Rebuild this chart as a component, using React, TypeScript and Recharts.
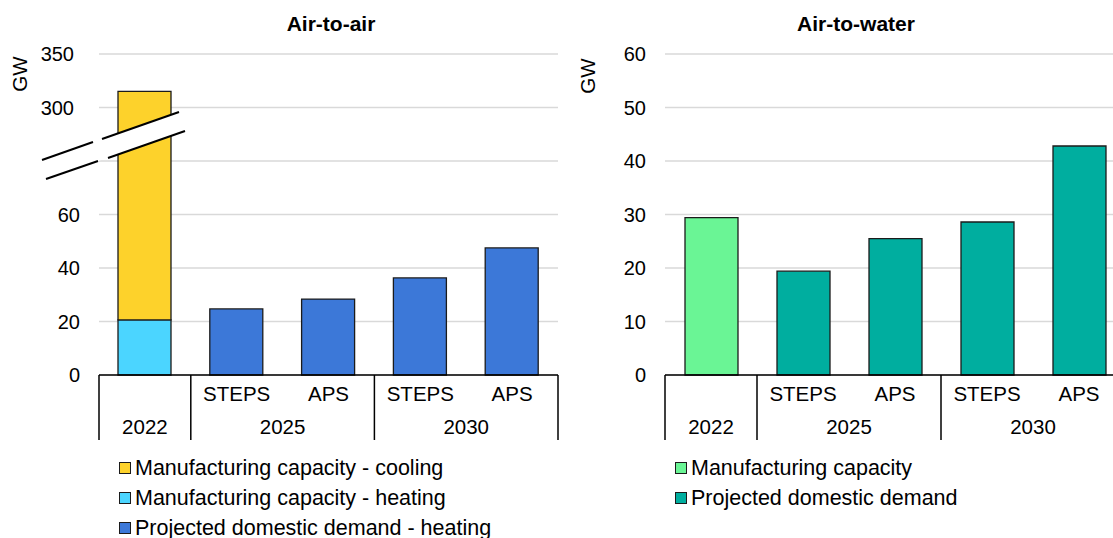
import React from 'react';
import { BarChart, Bar, XAxis, YAxis, CartesianGrid } from 'recharts';

// Shared category axis (two levels: scenario / year)
const years = ['2022', '2025', '2025', '2030', '2030'];
const scenarios = ['', 'STEPS', 'APS', 'STEPS', 'APS'];

// Air-to-air, GW
const aaHeatingCapacity = [20.6, null, null, null, null];
const aaCoolingCapacity = [294.4, null, null, null, null]; // total 315
const aaDemand = [null, 24.7, 28.4, 36.3, 47.5];
const aaTicks = [0, 20, 40, 60, 80, 300, 350];

// Air-to-water, GW
const awCapacity = [29.4, null, null, null, null];
const awDemand = [null, 19.4, 25.5, 28.6, 42.8];
const awTicks = [0, 10, 20, 30, 40, 50, 60];

const FONT = '"Liberation Sans", Arial, sans-serif';
const TEXT = '#000000';
const GRID = '#d9d9d9';
const EDGE = '#1b1b1b';

const COLORS = {
  cooling: '#fdd22b',
  heating: '#4bd5ff',
  aaDemand: '#3c78d8',
  awCapacity: '#6af595',
  awDemand: '#00ae9f'
};

// broken axis: 0-80 linear, then 300-350 squeezed into 100-120
const BREAK_LOW = 80;
const brk = (v: number) => (v <= BREAK_LOW ? v : 100 + (v - 300) * 0.4);
const unbrk = (d: number) => (d <= BREAK_LOW ? d : 300 + (d - 100) * 2.5);

const aaRows = years.map((year, i) => {
  const heat = aaHeatingCapacity[i] ?? 0;
  const cool = aaCoolingCapacity[i] ?? 0;
  return {
    year,
    scenario: scenarios[i],
    heating: heat,
    cooling: cool ? brk(heat + cool) - brk(heat) : 0,
    demand: aaDemand[i] ?? 0
  };
});

const awRows = years.map((year, i) => ({
  year,
  scenario: scenarios[i],
  capacity: awCapacity[i] ?? 0,
  demand: awDemand[i] ?? 0
}));

const CHART_H = 450;
const PLOT_TOP = 54;
const X_AXIS_H = 75;
const Y_AXIS_W = 60;
const BAR_W = 53;

const CategoryTick = (props: any) => {
  const { x, y, payload, half } = props;
  const i = payload.index;
  const n = years.length;
  const first = i === 0 || years[i - 1] !== years[i];
  let count = 0;
  if (first) {
    while (i + count < n && years[i + count] === years[i]) count++;
  }
  const style = { fontFamily: FONT, fontSize: 20.5, fill: TEXT };
  return (
    <g>
      {scenarios[i] && (
        <text x={x} y={y + 26} textAnchor="middle" style={style}>
          {scenarios[i]}
        </text>
      )}
      {first && (
        <>
          <line x1={x - half} x2={x - half} y1={y} y2={y + 65} stroke="#000" strokeWidth={1.5} />
          <text x={x - half + count * half} y={y + 59} textAnchor="middle" style={style}>
            {years[i]}
          </text>
        </>
      )}
      {i === n - 1 && (
        <line x1={x + half} x2={x + half} y1={y} y2={y + 65} stroke="#000" strokeWidth={1.5} />
      )}
    </g>
  );
};

const ValueTick = (props: any) => {
  const { x, y, payload, broken } = props;
  const raw = broken ? unbrk(payload.value) : payload.value;
  // the 80 line sits under the break marks, no label there
  if (broken && raw === BREAK_LOW) return <g />;
  const shift = broken && raw >= 300 ? 6 : 0;
  return (
    <text x={x - shift} y={y} dy={7} textAnchor="end" style={{ fontFamily: FONT, fontSize: 20, fill: TEXT }}>
      {Math.round(raw)}
    </text>
  );
};

const Title = ({ x, text }: { x: number; text: string }) => (
  <div style={{
    position: 'absolute',
    left: x - 150,
    top: 12,
    width: 300,
    textAlign: 'center',
    fontFamily: FONT,
    fontWeight: 700,
    fontSize: 21,
    color: TEXT
  }}>
    {text}
  </div>
);

const UnitLabel = ({ x, y }: { x: number; y: number }) => (
  <div style={{
    position: 'absolute',
    left: x - 30,
    top: y - 12,
    width: 60,
    height: 24,
    lineHeight: '24px',
    textAlign: 'center',
    transform: 'rotate(-90deg)',
    fontFamily: FONT,
    fontSize: 20.5,
    color: TEXT
  }}>
    GW
  </div>
);

const LegendBlock = ({ x, y, items }: { x: number; y: number; items: { label: string; color: string }[] }) => (
  <div style={{ position: 'absolute', left: x, top: y }}>
    {items.map(it => (
      <div key={it.label} style={{ display: 'flex', alignItems: 'center', height: 30 }}>
        <div style={{
          width: 10,
          height: 10,
          background: it.color,
          border: `1px solid ${EDGE}`,
          marginRight: 4
        }} />
        <span style={{ fontFamily: FONT, fontSize: 21.5, color: TEXT, whiteSpace: 'nowrap' }}>{it.label}</span>
      </div>
    ))}
  </div>
);

export default function App() {
  // left panel plot spans x 99..558, right panel 665..1125 (cut at page edge)
  const aaW = 580;
  const aaHalf = (558 - 99) / years.length / 2;
  const awLeft = 560;
  const awW = 600;
  const awHalf = (1125 - 665) / years.length / 2;

  return (
    <div style={{
      position: 'fixed',
      left: 0,
      top: 0,
      width: 1113,
      height: 538,
      overflow: 'hidden',
      background: '#fff'
    }}>
      <Title x={331} text="Air-to-air" />
      <Title x={856} text="Air-to-water" />
      <UnitLabel x={20} y={74} />
      <UnitLabel x={588} y={76} />

      <div style={{ position: 'absolute', left: 0, top: 0 }}>
        <BarChart
          width={aaW}
          height={CHART_H}
          data={aaRows}
          margin={{ top: PLOT_TOP, right: aaW - 558, bottom: 0, left: 99 - Y_AXIS_W }}
          barSize={BAR_W}
        >
          <CartesianGrid vertical={false} stroke={GRID} strokeWidth={1.5} />
          <YAxis
            width={Y_AXIS_W}
            domain={[0, 120]}
            ticks={aaTicks.map(brk)}
            interval={0}
            axisLine={false}
            tickLine={false}
            tickSize={0}
            tickMargin={19}
            tick={(p: any) => <ValueTick {...p} broken />}
          />
          <XAxis
            dataKey="scenario"
            height={X_AXIS_H}
            interval={0}
            axisLine={{ stroke: '#000', strokeWidth: 1.5 }}
            tickLine={false}
            tickSize={0}
            tickMargin={0}
            tick={(p: any) => <CategoryTick {...p} half={aaHalf} />}
          />
          <Bar dataKey="heating" stackId="a" fill={COLORS.heating} stroke={EDGE} strokeWidth={1.3} isAnimationActive={false} />
          <Bar dataKey="cooling" stackId="a" fill={COLORS.cooling} stroke={EDGE} strokeWidth={1.3} isAnimationActive={false} />
          <Bar dataKey="demand" stackId="a" fill={COLORS.aaDemand} stroke={EDGE} strokeWidth={1.3} isAnimationActive={false} />
        </BarChart>
      </div>

      {/* axis break marks */}
      <svg width={1113} height={538} style={{ position: 'absolute', left: 0, top: 0, pointerEvents: 'none' }}>
        <polygon points="42,160 179,112 185,131 46,179" fill="#fff" />
        <line x1={42} y1={160} x2={93} y2={142} stroke="#000" strokeWidth={2} />
        <line x1={102} y1={139} x2={179} y2={112} stroke="#000" strokeWidth={2} />
        <line x1={46} y1={179} x2={98} y2={161} stroke="#000" strokeWidth={2} />
        <line x1={108} y1={158} x2={185} y2={131} stroke="#000" strokeWidth={2} />
      </svg>

      <div style={{ position: 'absolute', left: awLeft, top: 0 }}>
        <BarChart
          width={awW}
          height={CHART_H}
          data={awRows}
          margin={{ top: PLOT_TOP, right: awLeft + awW - 1125, bottom: 0, left: 665 - awLeft - Y_AXIS_W }}
          barSize={BAR_W}
        >
          <CartesianGrid vertical={false} stroke={GRID} strokeWidth={1.5} />
          <YAxis
            width={Y_AXIS_W}
            domain={[0, 60]}
            ticks={awTicks}
            interval={0}
            axisLine={false}
            tickLine={false}
            tickSize={0}
            tickMargin={19}
            tick={(p: any) => <ValueTick {...p} />}
          />
          <XAxis
            dataKey="scenario"
            height={X_AXIS_H}
            interval={0}
            axisLine={{ stroke: '#000', strokeWidth: 1.5 }}
            tickLine={false}
            tickSize={0}
            tickMargin={0}
            tick={(p: any) => <CategoryTick {...p} half={awHalf} />}
          />
          <Bar dataKey="capacity" stackId="a" fill={COLORS.awCapacity} stroke={EDGE} strokeWidth={1.3} isAnimationActive={false} />
          <Bar dataKey="demand" stackId="a" fill={COLORS.awDemand} stroke={EDGE} strokeWidth={1.3} isAnimationActive={false} />
        </BarChart>
      </div>

      <LegendBlock
        x={119}
        y={453}
        items={[
          { label: 'Manufacturing capacity - cooling', color: COLORS.cooling },
          { label: 'Manufacturing capacity - heating', color: COLORS.heating },
          { label: 'Projected domestic demand - heating', color: COLORS.aaDemand }
        ]}
      />
      <LegendBlock
        x={675}
        y={453}
        items={[
          { label: 'Manufacturing capacity', color: COLORS.awCapacity },
          { label: 'Projected domestic demand', color: COLORS.awDemand }
        ]}
      />
    </div>
  );
}
